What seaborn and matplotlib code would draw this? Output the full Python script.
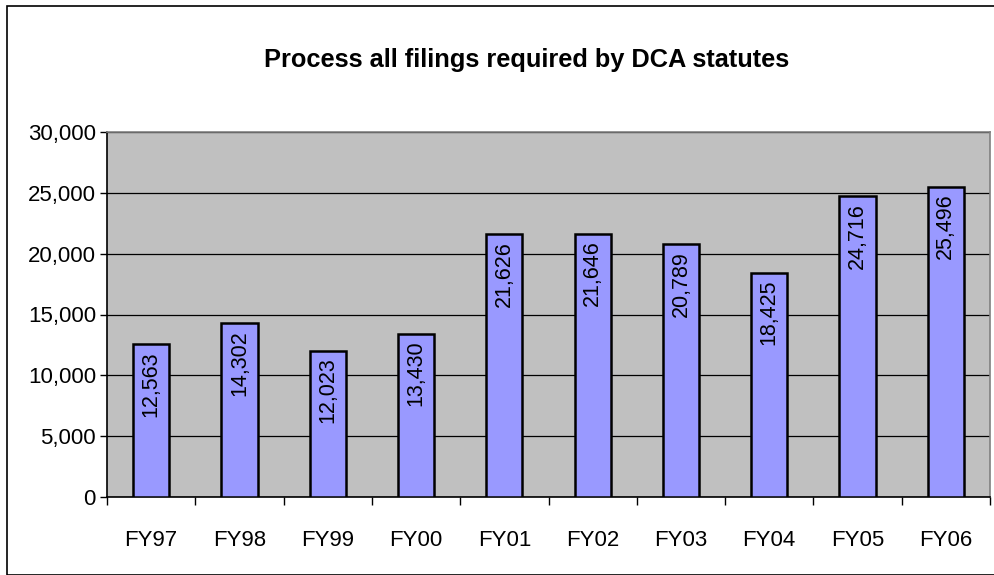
import matplotlib
matplotlib.use("Agg")
import matplotlib.pyplot as plt
import seaborn as sns
import pandas as pd
from matplotlib.patches import Rectangle
from matplotlib.ticker import FuncFormatter

years = ["FY97", "FY98", "FY99", "FY00", "FY01", "FY02", "FY03", "FY04", "FY05", "FY06"]
filings = [12563, 14302, 12023, 13430, 21626, 21646, 20789, 18425, 24716, 25496]
y_ticks = [0, 5000, 10000, 15000, 20000, 25000, 30000]

df = pd.DataFrame({"year": years, "filings": filings})

sns.set_style("white", {"text.color": "black", "xtick.color": "black",
                        "ytick.color": "black", "axes.labelcolor": "black"})
plt.rcParams["font.family"] = ["Liberation Sans", "DejaVu Sans"]

fig = plt.figure(figsize=(9.95, 5.75), dpi=100)
fig.patches.append(Rectangle((7 / 995, 0), 1.0, 1 - 6 / 575, transform=fig.transFigure,
                             fill=False, edgecolor="black", linewidth=1.2))
ax = fig.add_axes([107 / 995, 1 - 497 / 575, 883 / 995, 365 / 575])
ax.set_facecolor("#C0C0C0")

sns.barplot(data=df, x="year", y="filings", color="#9999FF", edgecolor="black",
            linewidth=1.8, width=0.41, saturation=1, ax=ax, zorder=3)

for i, v in enumerate(filings):
    ax.annotate(f"{v:,}", (i, v), xytext=(0, -5), textcoords="offset points",
                rotation=90, ha="center", va="top", fontsize=15.5, color="black", zorder=4)

ax.set_ylim(0, 30000)
ax.set_xlim(-0.5, len(years) - 0.5)
ax.set_yticks(y_ticks)
ax.yaxis.set_major_formatter(FuncFormatter(lambda v, p: f"{int(v):,}"))
ax.grid(axis="y", color="black", linewidth=0.9, zorder=0)
ax.set_axisbelow(True)

ax.set_xticks([i + 0.5 for i in range(-1, len(years))], minor=True)
ax.tick_params(axis="x", which="major", length=0, pad=24, labelsize=16, labelcolor="black")
ax.tick_params(axis="x", which="minor", length=6, width=1, color="black", direction="out")
ax.tick_params(axis="y", length=5, width=1, color="black", direction="out", labelsize=16,
               pad=3, labelcolor="black")
ax.yaxis.tick_left()
ax.xaxis.tick_bottom()

for side in ["left", "bottom"]:
    ax.spines[side].set_color("black")
    ax.spines[side].set_linewidth(1.2)
for side in ["top", "right"]:
    ax.spines[side].set_color("#808080")
    ax.spines[side].set_linewidth(1.2)

ax.set_xlabel("")
ax.set_ylabel("")
fig.text(527 / 995, 1 - 60 / 575, "Process all filings required by DCA statutes",
         ha="center", va="center", fontsize=18.3, fontweight="bold", color="black")

fig.savefig("out.png", dpi=100)
